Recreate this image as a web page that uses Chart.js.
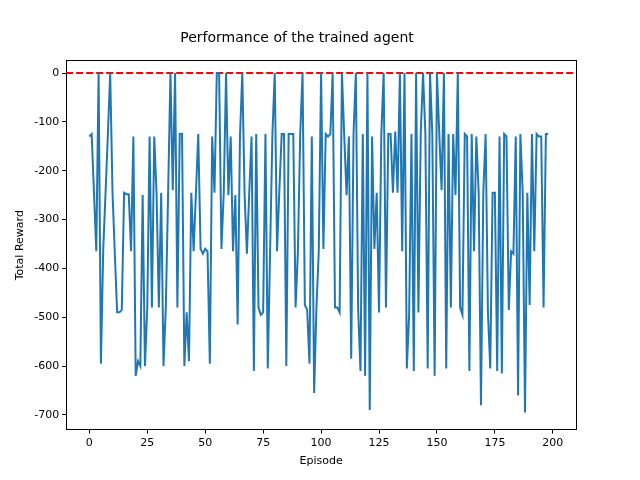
<!DOCTYPE html>
<html>
<head>
<meta charset="utf-8">
<script src="https://cdn.jsdelivr.net/npm/chart.js@4"></script>
<style>
  body { margin: 0; background: #fff; }
  #wrap { width: 640px; height: 480px; }
</style>
</head>
<body>
<div id="wrap"><canvas id="c"></canvas></div>
<script>
// total reward per episode
const rewards = [
  -130, -125, -245, -365, 0, -595, -360, -245, -125, 0,
  -245, -370, -490, -490, -485, -245, -248, -248, -365, -130,
  -620, -590, -600, -250, -600, -480, -130, -480, -130, -245,
  -480, -245, -600, -480, -245, 0, -240, 0, -480, -125,
  -125, -600, -490, -590, -245, -365, -245, -125, -360, -370,
  -360, -365, -595, -130, -245, 0, 0, -360, -245, 0,
  -250, -130, -365, -250, -515, -130, 0, -250, -370, -245,
  -130, -610, -125, -480, -495, -490, -125, -605, -365, -125,
  0, -365, -240, -125, -125, -600, -125, -125, -125, -480,
  -365, -125, 0, -475, -485, -595, -130, -655, -480, -365,
  0, -360, -125, -130, -125, 0, -480, -480, -490, 0,
  -130, -250, -130, -585, -125, 0, -485, -610, -125, -620,
  0, -690, -130, -360, -245, -490, -125, 0, -480, -125,
  -125, -245, -120, -245, 0, -365, 0, -605, -495, -125,
  -610, 0, -490, -125, 0, -125, -605, 0, -125, -620,
  0, -125, -240, 0, -605, -125, -480, -125, -250, 0,
  -480, -495, -125, -130, -610, -125, -365, -130, -245, -680,
  -245, -125, -490, -605, -245, -245, -610, -130, -615, -125,
  -130, -485, -365, -370, -130, -660, -125, -245, -695, -245,
  -475, -125, -365, -125, -130, -130, -480, -125, -125
];
const episodes = rewards.map((_, i) => i);
const xTicks = [0, 25, 50, 75, 100, 125, 150, 175, 200];
const yTicks = [0, -100, -200, -300, -400, -500, -600, -700];
const targetLine = [{ x: -10, y: 0 }, { x: 210, y: 0 }];

const font = { family: "DejaVu Sans", size: 10 };

new Chart(document.getElementById("c"), {
  type: "line",
  data: {
    datasets: [
      {
        data: episodes.map((e, i) => ({ x: e, y: rewards[i] })),
        borderColor: "#1f77b4",
        borderWidth: 2,
        pointRadius: 0,
        tension: 0
      },
      {
        data: targetLine,
        borderColor: "red",
        borderWidth: 2,
        borderDash: [7, 3],
        pointRadius: 0
      }
    ]
  },
  options: {
    responsive: true,
    maintainAspectRatio: false,
    animation: false,
    layout: { padding: { left: 10, right: 56, top: 26, bottom: 10 } },
    plugins: {
      legend: { display: false },
      tooltip: { enabled: false },
      title: {
        display: true,
        text: "Performance of the trained agent",
        color: "#000",
        font: { family: "DejaVu Sans", size: 14, weight: "normal" },
        padding: { top: 4, bottom: 6 }
      }
    },
    scales: {
      x: {
        type: "linear",
        min: -10,
        max: 210,
        afterBuildTicks: s => { s.ticks = xTicks.map(v => ({ value: v })); },
        grid: { display: true, drawOnChartArea: false, color: "#000", tickLength: 4 },
        border: { color: "#000" },
        ticks: { color: "#000", font: { family: "DejaVu Sans", size: 11 }, maxRotation: 0, padding: 3 },
        title: { display: true, text: "Episode", color: "#000", font: { family: "DejaVu Sans", size: 11 }, padding: 2 }
      },
      y: {
        min: -730,
        max: 25,
        afterBuildTicks: s => { s.ticks = yTicks.map(v => ({ value: v })); },
        grid: { display: true, drawOnChartArea: false, color: "#000", tickLength: 4 },
        border: { color: "#000" },
        ticks: { color: "#000", font: { family: "DejaVu Sans", size: 11 }, padding: 3 },
        title: { display: true, text: "Total Reward", color: "#000", font: { family: "DejaVu Sans", size: 11 }, padding: 4 }
      },
      x2: {
        position: "top", display: true, grid: { display: false },
        border: { color: "#000" }, ticks: { display: false }
      },
      y2: {
        position: "right", display: true, grid: { display: false },
        border: { color: "#000" }, ticks: { display: false }
      }
    }
  }
});
</script>
</body>
</html>
